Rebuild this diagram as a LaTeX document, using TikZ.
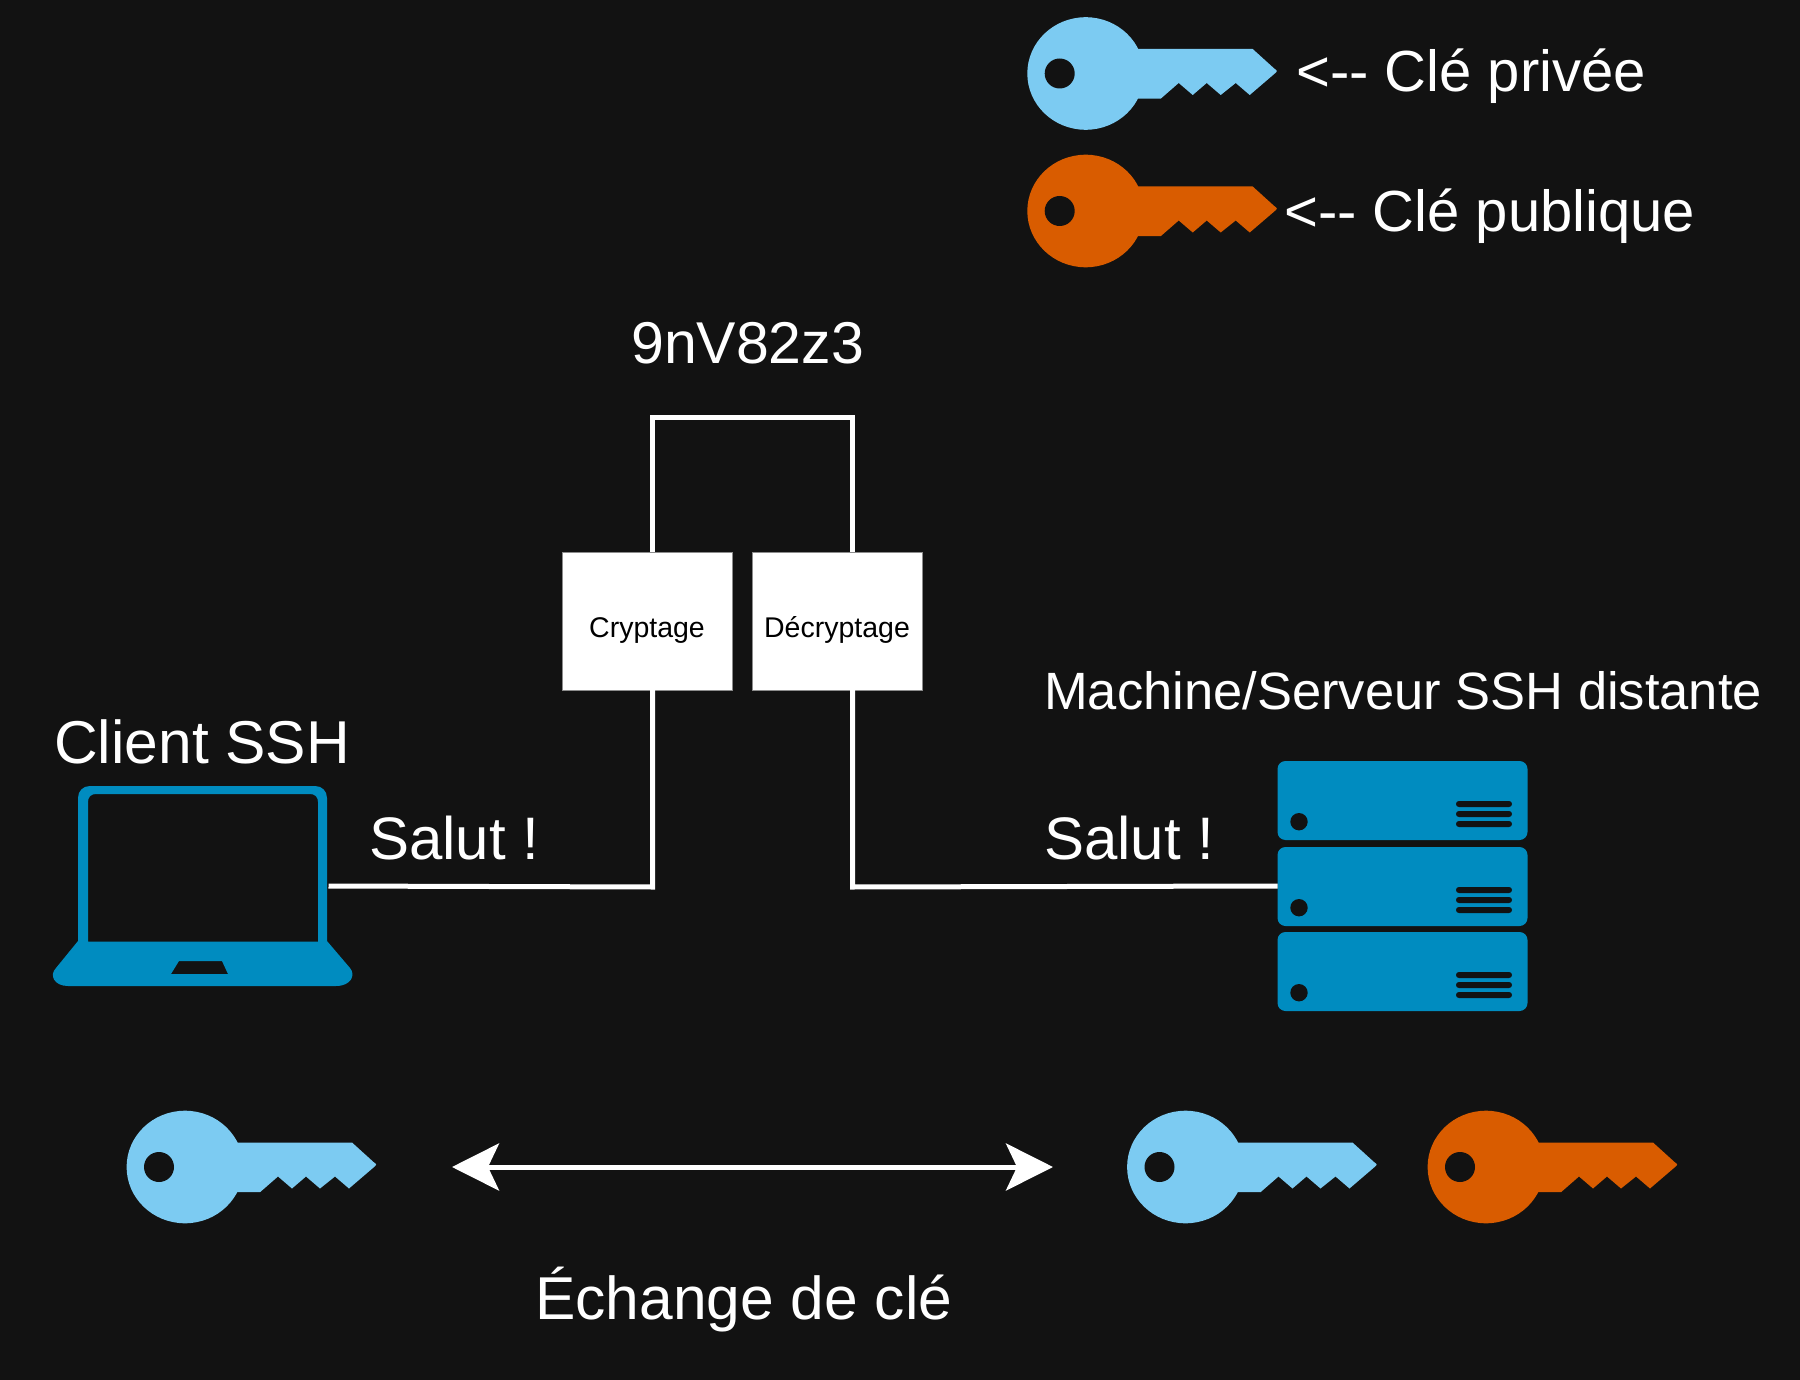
\documentclass[tikz,border=0pt]{standalone}
\usepackage{fontspec}
\setmainfont{Liberation Sans}
\usetikzlibrary{arrows.meta}
\definecolor{bgc}{HTML}{121212}
\definecolor{keyblue}{HTML}{7CCBF2}
\definecolor{keyorange}{HTML}{D95C00}
\definecolor{devblue}{HTML}{008CC0}
\tikzset{
  wire/.style={draw=white,line width=5pt,line join=miter},
  lbl/.style={anchor=base west,inner sep=0pt,text=white,font=\fontsize{#1}{#1}\selectfont},
  procbox/.style={draw=white!55!black,line width=0.5pt,fill=white,text=black,minimum width=170pt,minimum height=138pt,inner sep=0pt,
    text height=32pt,text depth=0pt,font=\fontsize{28.5}{28.5}\selectfont},
  pics/keypic/.style={code={
    \fill[#1] (0,0) ellipse[x radius=58.4,y radius=56.3];
    \fill[#1] (40,-24.5) -- (167,-24.5) -- (188.5,-5) .. controls (192,-2.5) .. (188.5,0.5) -- (164,21.5) -- (150,9.5) -- (135,21.5) -- (121,9.5) -- (107,21.5) -- (93,9.5) -- (75,25.2) -- (40,25.2) -- cycle;
    \fill[bgc] (-26,0) circle[radius=15];
  }},
  pics/rackpic/.style={code={
    \fill[devblue,rounded corners=8pt] (0,0) rectangle (250,79);
    \fill[bgc] (21.5,60.7) circle[radius=8.7];
    \foreach \yy in {43,53,63}{
      \fill[bgc,rounded corners=2.9pt] (178.5,\yy-3) rectangle (234.5,\yy+3);
    }
  }},
}
\begin{document}
\begin{tikzpicture}[x=1pt,y=-1pt]
\useasboundingbox (0,0) rectangle (1800,1380);
\fill[bgc] (0,0) rectangle (1800,1380);

% legend keys
\pic at (1085.7,73.5) {keypic=keyblue};
\pic at (1085.7,211) {keypic=keyorange};
\node[lbl=58] (lpriv) at (1296,92) {<{-}{-} Clé privée};
\node[lbl=58] (lpub) at (1284,232) {<{-}{-} Clé publique};

\node[lbl=59] (cipher) at (631,363) {9nV82z3};

% process boxes
\node[procbox] (crypt) at (647,621) {Cryptage};
\node[procbox] (decrypt) at (837,621) {Décryptage};

% laptop
\fill[devblue,even odd rule]
  (78,941) -- (78,798) .. controls (78,791) and (83,786) .. (90,786) -- (315,786) .. controls (322,786) and (327,791) .. (327,798) -- (327,941)
  -- (350,968) .. controls (356,975) and (351,986) .. (336,986) -- (68,986) .. controls (54,986) and (49,975) .. (56,968) -- cycle
  (88,941.5) -- (88,802) .. controls (88,797) and (91,794) .. (96,794) -- (310,794) .. controls (315,794) and (318,797) .. (318,802) -- (318,941.5) -- cycle
  (179,961) -- (222,961) -- (228,974) -- (171,974) -- cycle;
\node[lbl=60.5] (client) at (54,763) {Client SSH};
\node[lbl=60] (salutL) at (369,859) {Salut !};

% server
\pic at (1277.5,761) {rackpic};
\pic at (1277.5,847) {rackpic};
\pic at (1277.5,932) {rackpic};
\node[lbl=52.5] (server) at (1044,709) {Machine/Serveur SSH distante};
\node[lbl=60] (salutR) at (1044,859) {Salut !};

% connector anchors
\coordinate (laptopR) at (328.5,886);
\coordinate (serverL) at (1277.5,886);
\coordinate (cryptB) at (652.5,690);
\coordinate (cryptT) at (652.5,552);
\coordinate (decB) at (852.5,690);
\coordinate (decT) at (852.5,552);
\coordinate (elbowL) at (652.5,887);
\coordinate (elbowR) at (852.5,887);
\coordinate (topL) at (652.5,417);
\coordinate (topR) at (852.5,417);

\draw[wire] (laptopR) -- (elbowL) -- (cryptB);
\draw[wire] (cryptT) -- (topL) -- (topR) -- (decT);
\draw[wire] (decB) -- (elbowR) -- (serverL);

% exchange
\pic at (185,1167) {keypic=keyblue};
\pic at (1185.5,1167) {keypic=keyblue};
\pic at (1486,1167) {keypic=keyorange};
\coordinate (exL) at (452,1167);
\coordinate (exR) at (1053,1167);
\draw[draw=white,line width=5pt,{Stealth[length=47pt,width=47pt,inset=11pt,fill=white]}-{Stealth[length=47pt,width=47pt,inset=11pt,fill=white]}] (exL) -- (exR);
\node[lbl=60.5] (exch) at (535,1319) {Échange de clé};
\end{tikzpicture}
\end{document}
